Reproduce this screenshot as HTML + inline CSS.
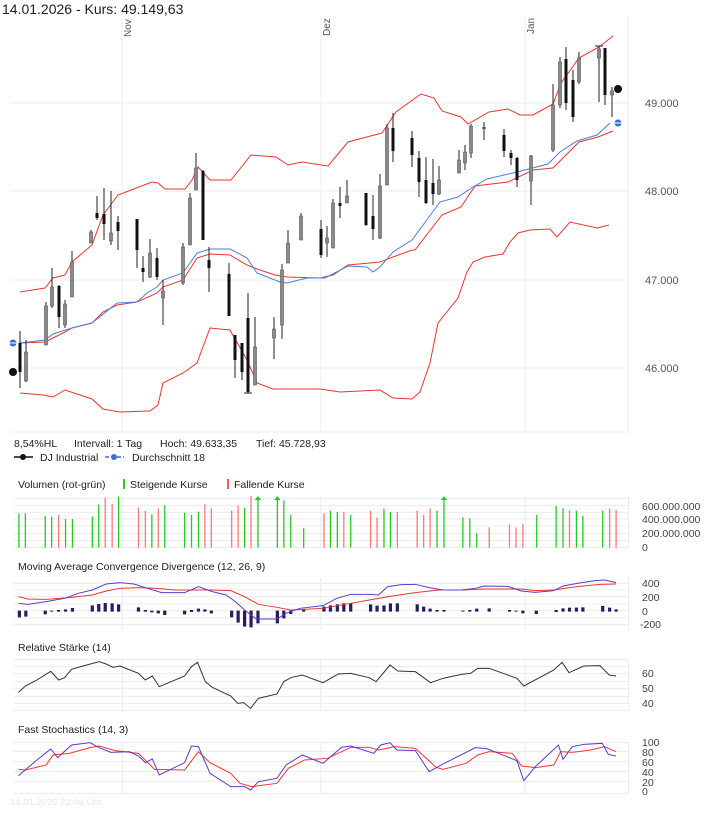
<!DOCTYPE html>
<html><head><meta charset="utf-8"><style>
html,body{margin:0;padding:0;background:#fff;width:720px;height:817px;overflow:hidden}
svg{display:block;font-family:"Liberation Sans",sans-serif}
.g{stroke:#ececec;stroke-width:1}
.ns{vector-effect:non-scaling-stroke;fill:none}
</style></head><body>
<svg width="720" height="817" viewBox="0 0 720 817">
<text x="2" y="14" font-size="14" fill="#222">14.01.2026  -  Kurs: 49.149,63</text>
<g class="g">
<line x1="10" y1="103" x2="628" y2="103"/><line x1="10" y1="191" x2="628" y2="191"/>
<line x1="10" y1="280" x2="628" y2="280"/><line x1="10" y1="368" x2="628" y2="368"/>
<line x1="10" y1="432" x2="628" y2="432"/>
<line x1="122" y1="17" x2="122" y2="432"/><line x1="321" y1="17" x2="321" y2="432"/><line x1="525" y1="17" x2="525" y2="432"/>
<line x1="628" y1="17" x2="628" y2="432"/>
</g>
<g font-size="10" fill="#555">
<text transform="translate(131,37) rotate(-90)">Nov</text>
<text transform="translate(330,36) rotate(-90)">Dez</text>
<text transform="translate(534,34) rotate(-90)">Jan</text>
</g>
<g font-size="11" fill="#555">
<text x="645" y="107">49.000</text><text x="645" y="195">48.000</text>
<text x="645" y="284">47.000</text><text x="645" y="372">46.000</text>
</g>
<g fill="none" stroke="#e33" stroke-width="1">
<polyline points="20,292 45,288 53,278 65,275 72,262 92,245 103,215 118,195 152,182 158,183 165,189 185,189 192,180 198,167 210,180 231,180 239,170 251,155 276,157 288,165 302,162 328,166 348,142 382,133 396,112 421,94 434,98 442,111 461,117 468,124 489,112 508,109 520,115 533,115 553,104 561,83 579,58 599,47 613,36"/>
<polyline points="20,343 45,342 65,332 72,328 92,323 103,312 117,305 137,302 157,293 163,287 183,280 197,258 210,254 230,255 247,265 257,269 275,275 287,277 320,278 333,275 348,265 380,262 393,257 412,250 415,250 442,215 461,207 475,186 508,182 533,170 553,168 579,142 598,137 613,131"/>
<polyline points="20,393 43,395 53,397 65,390 92,399 103,409 120,412 150,411 158,405 163,383 183,373 197,363 210,328 230,330 247,360 257,383 273,389 320,389 340,392 380,390 393,398 412,399 420,392 430,363 438,323 458,298 467,272 473,262 485,257 503,254 510,242 518,233 530,230 550,229 557,237 570,222 597,228 609,225"/>
</g>
<polyline fill="none" stroke="#4a7fd6" stroke-width="1" points="20,343 45,340 53,334 72,328 92,323 117,303 137,302 147,293 157,287 163,280 183,273 197,253 210,249 230,249 247,258 257,273 280,282 287,283 307,278 325,278 348,266 367,267 373,272 380,267 393,252 412,240 440,202 458,197 473,187 487,179 517,172 548,164 560,152 577,141 597,135 610,123"/>
<g stroke="#222" stroke-width="1">
<line x1="20" y1="331" x2="20" y2="388"/><line x1="26" y1="340" x2="26" y2="382"/>
<line x1="46" y1="302" x2="46" y2="345"/><line x1="52" y1="268" x2="52" y2="308"/>
<line x1="59" y1="285" x2="59" y2="328"/><line x1="65" y1="300" x2="65" y2="328"/>
<line x1="72" y1="251" x2="72" y2="297"/><line x1="91" y1="230" x2="91" y2="243"/>
<line x1="97" y1="196" x2="97" y2="220"/><line x1="104" y1="188" x2="104" y2="240"/>
<line x1="111" y1="191" x2="111" y2="245"/><line x1="118" y1="216" x2="118" y2="250"/>
<line x1="137" y1="219" x2="137" y2="268"/><line x1="143" y1="256" x2="143" y2="282"/>
<line x1="150" y1="239" x2="150" y2="278"/><line x1="157" y1="248" x2="157" y2="280"/>
<line x1="163" y1="280" x2="163" y2="325"/><line x1="183" y1="243" x2="183" y2="285"/>
<line x1="190" y1="193" x2="190" y2="245"/><line x1="196" y1="153" x2="196" y2="190"/>
<line x1="203" y1="170" x2="203" y2="240"/><line x1="209" y1="247" x2="209" y2="292"/>
<line x1="229" y1="263" x2="229" y2="316"/><line x1="235" y1="335" x2="235" y2="378"/>
<line x1="242" y1="343" x2="242" y2="380"/><line x1="248" y1="293" x2="248" y2="393"/>
<line x1="244" y1="393" x2="252" y2="393"/>
<line x1="255" y1="317" x2="255" y2="385"/><line x1="274" y1="317" x2="274" y2="359"/>
<line x1="282" y1="264" x2="282" y2="339"/><line x1="288" y1="230" x2="288" y2="263"/>
<line x1="301" y1="213" x2="301" y2="240"/><line x1="321" y1="220" x2="321" y2="258"/>
<line x1="327" y1="226" x2="327" y2="257"/><line x1="333" y1="199" x2="333" y2="248"/>
<line x1="340" y1="187" x2="340" y2="218"/><line x1="347" y1="180" x2="347" y2="203"/>
<line x1="366" y1="193" x2="366" y2="226"/><line x1="373" y1="195" x2="373" y2="240"/>
<line x1="380" y1="174" x2="380" y2="239"/><line x1="387" y1="124" x2="387" y2="185"/>
<line x1="393" y1="113" x2="393" y2="162"/><line x1="412" y1="131" x2="412" y2="167"/>
<line x1="419" y1="151" x2="419" y2="197"/><line x1="426" y1="157" x2="426" y2="204"/>
<line x1="433" y1="159" x2="433" y2="205"/><line x1="439" y1="166" x2="439" y2="195"/>
<line x1="459" y1="150" x2="459" y2="173"/><line x1="465" y1="145" x2="465" y2="170"/>
<line x1="471" y1="124" x2="471" y2="158"/><line x1="484" y1="122" x2="484" y2="140"/>
<line x1="482" y1="128" x2="486" y2="128"/>
<line x1="504" y1="129" x2="504" y2="157"/><line x1="511" y1="150" x2="511" y2="165"/>
<line x1="517" y1="157" x2="517" y2="187"/><line x1="531" y1="155" x2="531" y2="205"/>
<line x1="553" y1="84" x2="553" y2="152"/><line x1="560" y1="57" x2="560" y2="108"/>
<line x1="566" y1="47" x2="566" y2="110"/><line x1="573" y1="70" x2="573" y2="122"/>
<line x1="579" y1="52" x2="579" y2="84"/><line x1="599" y1="46" x2="599" y2="102"/>
<line x1="595" y1="46" x2="603" y2="46"/>
<line x1="605" y1="48" x2="605" y2="105"/><line x1="612" y1="87" x2="612" y2="117"/>
</g>
<g stroke="#555" stroke-width="0.6" fill="#8a8a8a" transform="translate(0.5,0)">
<rect x="24" y="352" width="3" height="29"/><rect x="44" y="306" width="3" height="39"/>
<rect x="50" y="287" width="3" height="19"/><rect x="63" y="304" width="3" height="21"/>
<rect x="70" y="262" width="3" height="35"/><rect x="89" y="232" width="3" height="11"/>
<rect x="109" y="233" width="3" height="8"/><rect x="148" y="253" width="3" height="24"/>
<rect x="161" y="291" width="3" height="7"/><rect x="181" y="247" width="3" height="36"/>
<rect x="188" y="198" width="3" height="47"/><rect x="194" y="168" width="3" height="22"/>
<rect x="253" y="347" width="3" height="38"/><rect x="272" y="329" width="3" height="9"/>
<rect x="280" y="270" width="3" height="55"/><rect x="286" y="243" width="3" height="20"/>
<rect x="299" y="216" width="3" height="24"/><rect x="325" y="238" width="3" height="5"/>
<rect x="331" y="203" width="3" height="45"/><rect x="345" y="196" width="3" height="7"/>
<rect x="378" y="186" width="3" height="52"/><rect x="385" y="128" width="3" height="57"/>
<rect x="437" y="180" width="3" height="14"/><rect x="457" y="160" width="3" height="13"/>
<rect x="463" y="152" width="3" height="11"/><rect x="469" y="126" width="3" height="27"/>
<rect x="529" y="156" width="3" height="25"/><rect x="551" y="105" width="3" height="45"/>
<rect x="558" y="62" width="3" height="43"/><rect x="577" y="58" width="3" height="24"/>
<rect x="597" y="49" width="3" height="9"/><rect x="610" y="91" width="3" height="4"/>
</g>
<g fill="#111" transform="translate(0.5,0)">
<rect x="18" y="343" width="3" height="29"/><rect x="57" y="286" width="3" height="31"/>
<rect x="95" y="213" width="3" height="5"/><rect x="102" y="214" width="3" height="10"/>
<rect x="116" y="222" width="3" height="9"/><rect x="135" y="219" width="3" height="31"/>
<rect x="141" y="268" width="3" height="4"/><rect x="155" y="258" width="3" height="19"/>
<rect x="201" y="171" width="3" height="69"/><rect x="207" y="260" width="3" height="8"/>
<rect x="227" y="274" width="3" height="42"/><rect x="233" y="335" width="3" height="25"/>
<rect x="240" y="343" width="3" height="29"/><rect x="246" y="318" width="3" height="74"/>
<rect x="319" y="229" width="3" height="26"/><rect x="338" y="203" width="3" height="3"/>
<rect x="364" y="193" width="3" height="32"/><rect x="371" y="216" width="3" height="13"/>
<rect x="391" y="128" width="3" height="23"/><rect x="410" y="138" width="3" height="17"/>
<rect x="417" y="158" width="3" height="24"/><rect x="424" y="180" width="3" height="23"/>
<rect x="431" y="183" width="3" height="11"/><rect x="502" y="135" width="3" height="16"/>
<rect x="509" y="153" width="3" height="5"/><rect x="515" y="158" width="3" height="22"/>
<rect x="564" y="59" width="3" height="44"/><rect x="571" y="80" width="3" height="37"/>
<rect x="603" y="48" width="3" height="47"/>
</g>
<circle cx="618" cy="89" r="4" fill="#111"/>
<circle cx="618" cy="123" r="3.5" fill="#3a6fd0"/><line x1="614" y1="123" x2="622" y2="123" stroke="#fff" stroke-width="1"/>
<circle cx="13" cy="372" r="4" fill="#111"/>
<circle cx="13" cy="343" r="3.5" fill="#3a6fd0"/><line x1="9" y1="343" x2="17" y2="343" stroke="#fff" stroke-width="1"/>
<g font-size="10.5" fill="#222">
<text x="14" y="447">8,54%HL</text><text x="74" y="447">Intervall: 1 Tag</text>
<text x="160" y="447">Hoch:  49.633,35</text><text x="256" y="447">Tief:  45.728,93</text>
<text x="40" y="461">DJ Industrial</text><text x="132" y="461">Durchschnitt 18</text>
</g>
<line x1="14" y1="457" x2="33" y2="457" stroke="#111" stroke-width="1.5"/><circle cx="23" cy="457" r="3" fill="#111"/>
<line x1="105" y1="457" x2="124" y2="457" stroke="#3a6fd0" stroke-width="1.5" stroke-dasharray="4,2"/><circle cx="114" cy="457" r="3" fill="#3a6fd0"/>
<g font-size="10.5" fill="#222">
<text x="18" y="488">Volumen (rot-grün)</text><text x="130" y="488">Steigende Kurse</text><text x="234" y="488">Fallende Kurse</text>
<text x="18" y="570">Moving Average Convergence Divergence (12, 26, 9)</text>
<text x="18" y="651">Relative Stärke (14)</text>
<text x="18" y="733">Fast Stochastics (14, 3)</text>
</g>
<rect x="123" y="479" width="2" height="10" fill="#2c2"/><rect x="227" y="479" width="2" height="10" fill="#f55"/>
<g font-size="10.5" fill="#444">
<text x="642" y="510">600.000.000</text><text x="642" y="523">400.000.000</text><text x="642" y="537">200.000.000</text><text x="642" y="551">0</text>
<text x="642" y="587">400</text><text x="642" y="601">200</text><text x="642" y="615">0</text><text x="640" y="628">-200</text>
<text x="642" y="677">60</text><text x="642" y="692">50</text><text x="642" y="707">40</text>
<text x="642" y="746">100</text><text x="642" y="756">80</text><text x="642" y="766">60</text><text x="642" y="776">40</text><text x="642" y="786">20</text><text x="642" y="795">0</text>
</g>
<text x="10" y="805" font-size="9.5" fill="#e6e6e6">14.01.2026 22:46 Uhr</text>
<g transform="translate(0,420) scale(0.4615,0.3333)">
<path class="ns" stroke="#ececec" stroke-width="1" d="M30 235H1362M30 257H1362M30 277H1362M30 297H1362M30 318H1362M30 340H1362M30 362H1362M30 383H1362"/>
<path class="ns" stroke="#ececec" stroke-width="1" d="M30 490H1362M30 510H1362M30 530H1362M30 552H1362M30 572H1362M30 594H1362M30 613H1362"/>
<path class="ns" stroke="#ececec" stroke-width="1" d="M265 228V383M695 228V383M1138 228V383M1362 228V383M265 472V630M695 472V630M1138 472V630M1362 472V630"/>
<g stroke="#2c2" stroke-width="1.3">
<path class="ns" d="M41 383V280M55 383V280M98 383V288M112 383V290M142 383V297M157 383V297M200 383V290M214 383V253M257 383V230M329 383V283M357 383V256M400 383V278M415 383V285M430 383V275M530 383V263M559 383V232M601 383V232M615 383V241M630 383V285M658 383V325M716 383V272M731 383V276M760 383V285M832 383V266M846 383V276M947 383V272M962 383V232M1003 383V292M1018 383V295M1033 383V340M1163 383V285M1205 383V258M1220 383V265M1249 383V272M1263 383V288M1306 383V272"/>
</g>
<g fill="#2c2"><path d="M552 240L559 228L566 240Z"/><path d="M594 240L601 228L608 240Z"/><path d="M955 240L962 228L969 240Z"/></g>
<g stroke="#f77" stroke-width="1.3">
<path class="ns" d="M127 383V285M228 383V233M243 383V252M300 383V262M315 383V272M343 383V265M444 383V253M458 383V265M502 383V272M516 383V256M544 383V228M702 383V280M745 383V276M803 383V272M817 383V292M861 383V276M904 383V272M918 383V285M932 383V265M1060 383V322M1104 383V313M1118 383V323M1133 383V312M1234 383V272M1321 383V265M1335 383V270"/>
</g>
<g stroke="#2a1a5e" stroke-width="3.2">
<path class="ns" d="M42 572V592M56 572V590M98 572V583M112 572V575M127 570V575M142 568V575M157 564V575M200 556V575M214 552V575M228 549V575M243 550V575M257 553V575M300 562V575M315 570V575M329 572V577M343 572V580M357 572V585M400 572V583M415 570V576M430 566V575M444 568V575M458 572V580M502 572V592M516 572V608M530 572V620M544 572V622M559 572V610M601 572V610M615 572V595M630 572V582M658 567V575M702 560V575M716 556V575M731 553V575M745 550V575M760 550V575M803 553V575M817 557V575M832 556V575M846 550V575M861 550V575M904 553V575M918 560V575M932 566V575M947 570V575M962 570V575M1003 572V575M1018 570V575M1033 566V575M1060 565V575M1104 570V575M1118 572V575M1133 572V580M1162 572V582M1205 570V576M1220 565V575M1234 563V575M1249 563V575M1263 562V575M1306 558V575M1321 563V575M1335 568V575"/>
</g>
<polyline class="ns" stroke="#e33" stroke-width="1" points="40,530 60,537 100,538 150,533 200,525 230,513 260,505 300,503 340,505 380,510 420,510 460,510 500,512 530,530 560,553 600,562 630,570 700,565 760,550 800,540 850,528 900,518 950,510 1000,510 1050,507 1130,507 1160,512 1200,510 1250,500 1300,493 1335,492"/>
<polyline class="ns" stroke="#5a3bc8" stroke-width="1" points="40,550 60,553 100,545 140,535 170,520 200,510 230,492 260,488 290,492 320,505 350,518 400,518 430,500 460,515 490,525 510,545 530,570 555,597 600,597 620,580 650,565 700,557 730,535 760,523 800,523 820,525 840,500 870,494 900,493 930,503 960,510 1000,510 1030,505 1050,498 1100,499 1130,513 1160,517 1200,512 1220,498 1260,488 1290,482 1310,480 1335,488"/>
</g>
<g transform="translate(0,630) scale(0.4615,0.3333)">
<path class="ns" stroke="#ececec" d="M30 88H1362M30 110H1362M30 130H1362M30 155H1362M30 175H1362M30 200H1362M30 220H1362M30 242H1362M265 88V242M695 88V242M1138 88V242M1362 88V242"/>
<polyline class="ns" stroke="#333" stroke-width="1" points="40,187 55,168 80,150 110,124 127,150 140,143 155,118 180,108 215,95 230,102 245,112 260,108 300,130 315,150 330,138 345,170 400,138 415,110 428,97 445,155 460,172 500,198 515,220 528,218 543,235 560,205 600,192 615,155 630,143 655,135 700,158 733,132 760,130 800,143 815,155 845,105 862,123 900,125 933,158 960,145 1000,133 1020,130 1035,115 1060,115 1120,145 1135,168 1200,120 1218,97 1233,128 1265,108 1300,107 1320,135 1335,138"/>
<path class="ns" stroke="#ececec" d="M30 338H1362M30 364H1362M30 394H1362M30 424H1362M30 454H1362M30 490H1362M265 335V490M695 335V490M1138 335V490M1362 335V490"/>
<polyline class="ns" stroke="#f33" stroke-width="1" points="40,418 55,420 100,405 115,375 150,370 195,353 215,348 250,362 300,370 335,418 400,420 430,365 455,398 500,430 520,460 545,470 600,460 625,415 660,390 710,385 760,352 800,352 820,360 855,350 900,355 945,412 960,418 1010,400 1035,375 1060,365 1110,370 1130,408 1160,413 1200,405 1215,365 1240,367 1280,360 1310,350 1335,365"/>
<polyline class="ns" stroke="#5a3bc8" stroke-width="1" points="40,437 80,390 110,357 125,383 155,345 195,338 215,353 240,367 280,365 300,378 315,398 330,387 345,435 400,398 415,348 430,350 455,430 500,470 530,470 543,480 560,455 600,445 620,405 655,375 700,400 740,352 760,348 810,370 825,345 845,338 860,360 900,362 930,425 960,402 1030,353 1055,356 1120,392 1135,452 1160,410 1210,345 1220,388 1240,350 1265,343 1305,340 1318,373 1335,378"/>
</g>
</svg>
</body></html>
